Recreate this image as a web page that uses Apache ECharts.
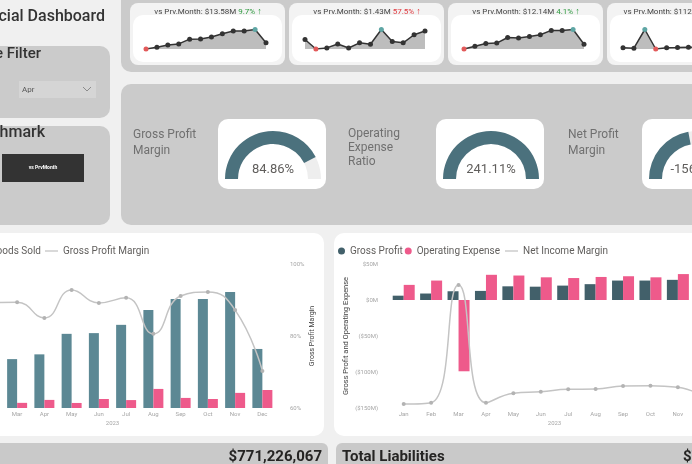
<!DOCTYPE html>
<html>
<head>
<meta charset="utf-8">
<script src="https://cdn.jsdelivr.net/npm/echarts@6/dist/echarts.min.js"></script>
<style>
  html, body { margin: 0; padding: 0; width: 692px; height: 464px; overflow: hidden; background: #f0f0f0; }
  #dash { position: absolute; left: -60px; top: 0; width: 900px; height: 464px; }
</style>
</head>
<body>
<div id="dash"></div>
<script>
// page is shifted 60px left so the cropped parts of the dashboard can sit off screen
var OFF = 60;
function X(v) { return v + OFF; }

var months = ['Jan', 'Feb', 'Mar', 'Apr', 'May', 'Jun', 'Jul', 'Aug', 'Sep', 'Oct', 'Nov', 'Dec'];

// $M
var revenue = [8.8, 10.8, 13.58, 14.9, 20.6, 20.8, 23.1, 27.2, 30.3, 30.3, 32.2, 16.4];
var costOfGoods = [3.2, 1.2, 1.43, 2.25, 1.4, 2.5, 2.2, 5.3, 2.8, 2.5, 4.2, 5.0];
var grossMargin = [64, 89, 89.4, 85, 92.8, 89.2, 90.6, 80.6, 91.1, 92.2, 87.2, 70.3];
var grossProfit = [6, 9, 12.14, 12.64, 19, 18.5, 20, 22, 27, 27, 28, 11.4];
var operatingExpense = [21, 27, -99, 35, 34, 31.5, 30.5, 32, 33, 31.5, 36, 30];
var netIncomeMargin = [-167, -156, 825, -156, -77, -64, -44, -42, -17, -14, -27, -113];
var netIncome = [-15, -18, 112.82, -23.3, -15, -13, -10.5, -10, -6, -4.5, -8, -18.6];

// kpi cards on top
var sparkSeries = [revenue, costOfGoods, grossProfit, netIncome];
var sparkPrev = ['$13.58M', '$1.43M', '$12.14M', '$112.82M'];
var sparkChange = ['9.7%', '57.5%', '4.1%', '-120.7%'];
var sparkArrow = ['↑', '↑', '↑', '↓'];
var sparkGood = [true, false, true, false];

// gauges
var gaugeNames = ['Gross Profit\nMargin', 'Operating\nExpense\nRatio', 'Net Profit\nMargin'];
var gaugeValues = [84.86, 241.11, -156.25];
var gaugeMin = [0, 0, -280];
var gaugeMax = [100, 100, 0];

var totalAssets = '$771,226,067';
var totalLiabilities = '$712,384,519';

var PANEL = '#cbcbcb';
var TEAL = '#5c8894';
var SLATE = '#42606a';
var PINK = '#ee5a8b';
var GAUGE = '#4b717d';
var FONT = 'Roboto';

function rect(x, y, w, h, r, fill, z) {
    return { type: 'rect', z: z || 0, shape: { x: X(x), y: y, width: w, height: h, r: r }, style: { fill: fill } };
}
function text(str, x, y, size, fill, align, weight, lh) {
    return {
        type: 'text', z: 3,
        style: {
            text: str, x: X(x), y: y, fill: fill,
            font: (weight || 'normal') + ' ' + size + 'px ' + FONT,
            lineHeight: lh || size + 2,
            textAlign: align || 'left', textVerticalAlign: 'middle',
            align: align || 'left', verticalAlign: 'middle'
        }
    };
}

var cardX = [130, 289, 448, 607];
var gaugeCardX = [218, 436, 642];
var gaugeLabelX = [133, 348, 568];

var graphics = [];
// panels
graphics.push(rect(121, -12, 700, 84, 10, PANEL));
graphics.push(rect(-20, 46, 130, 72, 10, PANEL));
graphics.push(rect(-20, 126, 130, 99, 10, PANEL));
graphics.push(rect(121, 84, 700, 141, 10, PANEL));
graphics.push(rect(-20, 233, 344, 203, 10, '#ffffff'));
graphics.push(rect(334, 233, 420, 203, 10, '#ffffff'));
graphics.push(rect(-20, 443, 348, 40, 6, '#c9c9c9'));
graphics.push(rect(336, 443, 470, 40, 6, '#c9c9c9'));

graphics.push(text('Financial Dashboard', 105, 17, 16, '#333333', 'right', '500'));
graphics.push(text('Date Filter', 41, 54, 15, '#333333', 'right', '500'));
graphics.push(text('Benchmark', 45, 133, 16, '#333333', 'right', '500'));

// dropdown + button
graphics.push(rect(19, 81, 77, 17, 0, '#d5d5d5', 1));
graphics.push(text('Apr', 22, 89.5, 8, '#555555'));
graphics.push({ type: 'polyline', z: 3, shape: { points: [[X(83), 87], [X(87), 91], [X(91), 87]] }, style: { stroke: '#777', lineWidth: 0.8, fill: null } });
graphics.push(rect(2, 154, 82, 28, 0, '#333333', 1));
graphics.push(text('vs PrvMonth', 43, 168, 5, '#ffffff', 'center', 'bold'));

// kpi cards
cardX.forEach(function (x, i) {
    graphics.push(rect(x, 3, 155, 62, 8, '#f3f3f3', 1));
    graphics.push(rect(x + 3, 15, 149, 47, 10, '#ffffff', 1));
    var col = sparkGood[i] ? '#2f9a40' : '#e0383e';
    graphics.push({
        type: 'text', z: 3,
        style: {
            x: X(x + 78), y: 12, textAlign: 'center', textVerticalAlign: 'middle', align: 'center', verticalAlign: 'middle',
            text: '{a|vs Prv.Month: ' + sparkPrev[i] + ' }{b|' + sparkChange[i] + ' }{c|' + sparkArrow[i] + '}',
            rich: {
                a: { fill: '#444444', fontSize: 8, fontFamily: FONT },
                b: { fill: col, fontSize: 8, fontFamily: FONT },
                c: { fill: col, fontSize: 9, fontFamily: FONT, fontWeight: 'bold' }
            }
        }
    });
});

// gauge cards
gaugeCardX.forEach(function (x, i) {
    graphics.push(rect(x, 119, 108, 70, 10, '#ffffff', 1));
    graphics.push(text(gaugeNames[i], gaugeLabelX[i], 134, 12, '#707070', 'left', 'normal', i === 1 ? 14 : 16));
});

// bottom strip
graphics.push(text(totalAssets, 322, 457, 15, '#252423', 'right', 'bold'));
graphics.push(text('Total Liabilities', 342, 457, 15, '#252423', 'left', 'bold'));
graphics.push(text(totalLiabilities, 683, 457, 15, '#252423', 'left', 'bold'));

// multi-line labels: anchor at the top of the first line
graphics.forEach(function (g) {
    if (g.type === 'text' && g.style.text && g.style.text.indexOf('\n') > 0) {
        g.style.textVerticalAlign = 'top';
        g.style.verticalAlign = 'top';
        g.style.y = g.style.y - 7;
    }
});

function sparkData(arr) {
    var lo = Math.min.apply(null, arr), hi = Math.max.apply(null, arr);
    return arr.map(function (v) {
        var c = v === lo ? '#e25a5a' : (v === hi ? '#5ea6a4' : '#333333');
        return { value: v, itemStyle: { color: c } };
    });
}

var grids = [], xAxes = [], yAxes = [], series = [];
cardX.forEach(function (x, i) {
    grids.push({ left: X(x + 16), top: 29.5, width: 120, height: 19.5 });
    xAxes.push({ gridIndex: i, type: 'category', boundaryGap: false, show: false, data: months });
    yAxes.push({ gridIndex: i, show: false, min: function (v) { return v.min; }, max: function (v) { return v.max; } });
    series.push({
        type: 'line', xAxisIndex: i, yAxisIndex: i, data: sparkData(sparkSeries[i]),
        symbol: 'circle', symbolSize: 5,
        lineStyle: { color: '#333333', width: 1.5 },
        areaStyle: { color: '#bdbdbd', opacity: 1, origin: 'start' }
    });
});

var smallLabel = { fontSize: 6, color: '#a6a6a6', fontFamily: FONT };

// left combo chart
grids.push({ left: X(-51), top: 264, width: 327, height: 144 });
xAxes.push({
    gridIndex: 4, type: 'category', data: months,
    axisLine: { show: false }, axisTick: { show: false },
    axisLabel: Object.assign({ margin: 3 }, smallLabel),
    name: '2023', nameLocation: 'middle', nameGap: 12, nameTextStyle: smallLabel
});
yAxes.push({ gridIndex: 4, show: false, min: 0, max: 40 });
yAxes.push({
    gridIndex: 4, position: 'right', min: 60, max: 100, interval: 20,
    splitLine: { show: false }, axisLine: { show: false },
    axisLabel: Object.assign({ margin: 14, formatter: '{value}%' }, smallLabel),
    name: 'Gross Profit Margin', nameLocation: 'middle', nameRotate: 90, nameGap: 33,
    nameTextStyle: { fontSize: 7, color: '#444444', fontFamily: FONT }
});

// right combo chart
grids.push({ left: X(390), top: 264, width: 329, height: 144 });
xAxes.push({
    gridIndex: 5, type: 'category', data: months,
    axisLine: { show: false }, axisTick: { show: false },
    axisLabel: Object.assign({ margin: 3 }, smallLabel),
    name: '2023', nameLocation: 'middle', nameGap: 12, nameTextStyle: smallLabel
});
yAxes.push({
    gridIndex: 5, min: -150, max: 50, interval: 50,
    splitLine: { show: false }, axisLine: { show: false },
    axisLabel: Object.assign({
        margin: 12,
        formatter: function (v) { return v < 0 ? '($' + (-v) + 'M)' : '$' + v + 'M'; }
    }, smallLabel),
    name: 'Gross Profit and Operating Expense', nameLocation: 'middle', nameRotate: 90, nameGap: 40,
    nameTextStyle: { fontSize: 7.5, color: '#444444', fontFamily: FONT }
});
yAxes.push({ gridIndex: 5, show: false, position: 'right', min: -200, max: 1000 });

series.push({ name: 'Revenue', type: 'bar', xAxisIndex: 4, yAxisIndex: 4, data: revenue, barWidth: 10, barGap: '0%', itemStyle: { color: TEAL } });
series.push({ name: 'Cost of Goods Sold', type: 'bar', xAxisIndex: 4, yAxisIndex: 4, data: costOfGoods, barWidth: 10, barGap: '0%', itemStyle: { color: PINK } });
series.push({
    name: 'Gross Profit Margin', type: 'line', xAxisIndex: 4, yAxisIndex: 5, data: grossMargin, smooth: true,
    symbol: 'circle', symbolSize: 4, itemStyle: { color: '#b3b3b3' }, lineStyle: { color: '#c4c4c4', width: 1.5 }
});
series.push({ name: 'Gross Profit', type: 'bar', xAxisIndex: 5, yAxisIndex: 6, data: grossProfit, barWidth: 11, barGap: '0%', itemStyle: { color: SLATE } });
series.push({ name: 'Operating Expense', type: 'bar', xAxisIndex: 5, yAxisIndex: 6, data: operatingExpense, barWidth: 11, barGap: '0%', itemStyle: { color: PINK } });
series.push({
    name: 'Net Income Margin', type: 'line', xAxisIndex: 5, yAxisIndex: 7, data: netIncomeMargin, smooth: true,
    symbol: 'circle', symbolSize: 4, itemStyle: { color: '#b3b3b3' }, lineStyle: { color: '#c4c4c4', width: 1.5 }
});

// gauges
gaugeCardX.forEach(function (x, i) {
    series.push({
        type: 'gauge', center: [X(x + 55), 179], radius: 48,
        startAngle: 180, endAngle: 0, min: gaugeMin[i], max: gaugeMax[i],
        progress: { show: true, width: 13, itemStyle: { color: GAUGE } },
        axisLine: { lineStyle: { width: 13, color: [[1, '#eeeeee']] } },
        pointer: { show: false }, anchor: { show: false }, title: { show: false },
        axisTick: { show: false }, splitLine: { show: false }, axisLabel: { show: false },
        detail: {
            offsetCenter: [0, -9], fontSize: 13, color: '#605e5c', fontFamily: FONT, fontWeight: 'normal',
            formatter: function () { return gaugeValues[i].toFixed(2) + '%'; }
        },
        data: [{ value: Math.min(gaugeValues[i], gaugeMax[i]) }]
    });
});

var legendText = { color: '#605e5c', fontSize: 10, fontFamily: FONT };
var option = {
    animation: false,
    textStyle: { fontFamily: FONT },
    graphic: graphics,
    grid: grids,
    xAxis: xAxes,
    yAxis: yAxes,
    legend: [
        { data: ['Revenue', 'Cost of Goods Sold'], icon: 'circle', itemWidth: 7, itemHeight: 7, itemGap: 4, right: 900 - X(41), width: 400, top: 246, padding: 0, textStyle: legendText },
        { data: ['Gross Profit Margin'], icon: 'rect', itemWidth: 13, itemHeight: 1, left: X(45), top: 246, padding: 0, textStyle: legendText },
        { data: ['Gross Profit', 'Operating Expense'], icon: 'circle', itemWidth: 7, itemHeight: 7, itemGap: 2, left: X(338), top: 246, padding: 0, textStyle: legendText },
        { data: ['Net Income Margin'], icon: 'rect', itemWidth: 13, itemHeight: 1, left: X(505), top: 246, padding: 0, textStyle: legendText }
    ],
    series: series
};

var chart = echarts.init(document.getElementById('dash'));
chart.setOption(option);
</script>
</body>
</html>
